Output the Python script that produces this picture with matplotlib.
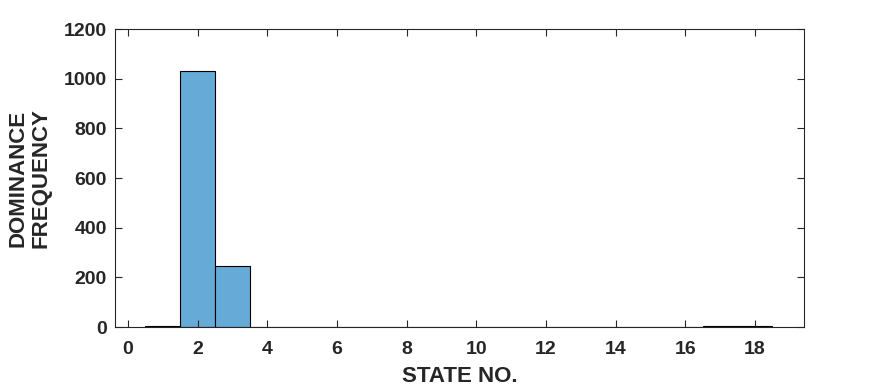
import matplotlib
matplotlib.use("Agg")
import matplotlib.pyplot as plt

states = list(range(1, 19))
counts = [4, 1031, 247, 0, 0, 0, 0, 0, 0, 0, 0, 0, 0, 0, 0, 0, 4, 4]
xticks = [0, 2, 4, 6, 8, 10, 12, 14, 16, 18]
yticks = [0, 200, 400, 600, 800, 1000, 1200]

plt.rcParams['font.family'] = ['Liberation Sans', 'DejaVu Sans']
plt.rcParams['font.weight'] = 'bold'

fig = plt.figure(figsize=(8.88, 3.9), dpi=100)
ax = fig.add_axes([0.1295, 0.1615, 0.7755, 0.7641])

ax.bar(states, counts, width=1.0, color='#66aad7', edgecolor='black', linewidth=0.8)

ax.set_xlim(-0.37, 19.4)
ax.set_ylim(0, 1200)
ax.set_xticks(xticks)
ax.set_yticks(yticks)
ax.tick_params(direction='in', length=5, width=0.8, labelsize=14, colors='#262626',
               top=True, right=True)
ax.tick_params(axis='x', pad=10)
ax.tick_params(axis='y', pad=6)
for lab in ax.get_xticklabels() + ax.get_yticklabels():
    lab.set_fontweight('bold')
for s in ax.spines.values():
    s.set_linewidth(0.8)
    s.set_color('#262626')

ax.set_xlabel('STATE NO.', fontsize=16, fontweight='bold', color='#262626', labelpad=6)
ax.set_ylabel('DOMINANCE\nFREQUENCY', fontsize=16, fontweight='bold', color='#262626',
              labelpad=9, linespacing=1.1)

fig.savefig('out.png', dpi=100)
